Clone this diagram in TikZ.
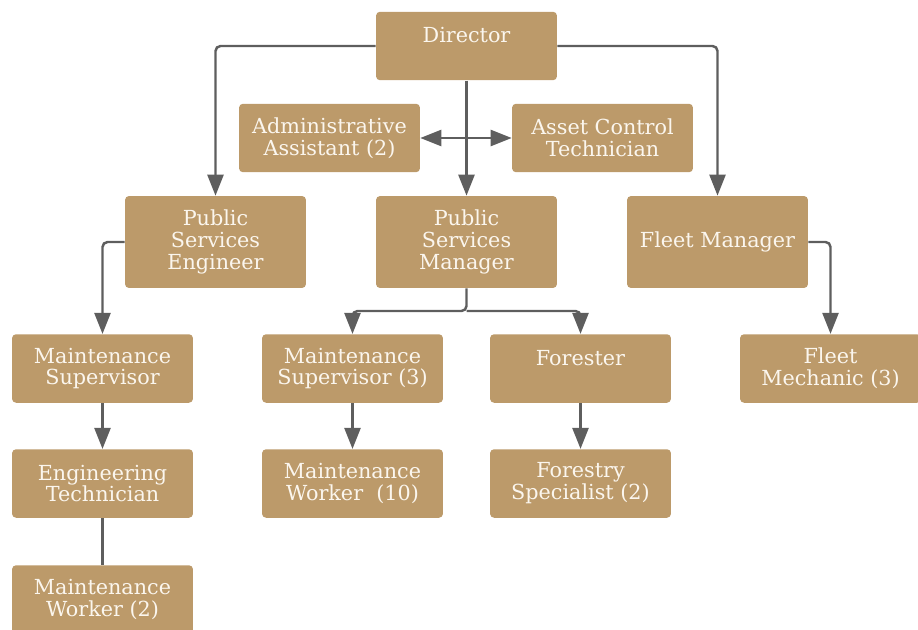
\documentclass[tikz,border=0pt]{standalone}
\usepackage{fontspec}
\setmainfont{DejaVu Serif}
\usetikzlibrary{arrows.meta, positioning}

\definecolor{boxtan}{HTML}{BC9A6A}
\definecolor{linegray}{HTML}{5E5E5E}
\definecolor{textcream}{HTML}{FBF6EE}

\begin{document}
\begin{tikzpicture}[
    x=0.02cm, y=-0.02cm,
    role/.style={rectangle, rounded corners=0.08cm, fill=boxtan, text=textcream,
        minimum width=3.62cm, minimum height=1.37cm, inner sep=0pt, align=center,
        font=\fontsize{11.8}{12.5}\selectfont},
    tallrole/.style={role, minimum height=1.84cm},
    link/.style={draw=linegray, line width=1.4pt, rounded corners=0.1cm},
    arrow/.style={link, -{Triangle[length=0.42cm, width=0.32cm]}},
    twoway/.style={link, {Triangle[length=0.42cm, width=0.32cm]}-{Triangle[length=0.42cm, width=0.32cm]}}
]
\useasboundingbox (0,0) rectangle (918,629);
\clip (0,0) rectangle (918,629);

% ---- baris atas ----
\node[role]     (dir)  at (466.5, 46)  {Director\\ \mbox{}};
\node[role]     (adm)  at (329.5,138)  {Administrative\\Assistant (2)};
\node[role]     (ast)  at (602.5,138)  {Asset Control\\Technician};

% ---- manajer ----
\node[tallrole] (pse)  at (215.5,242)  {Public\\Services\\Engineer};
\node[tallrole] (psm)  at (466.5,242)  {Public\\Services\\Manager};
\node[tallrole] (flm)  at (717.5,242)  {Fleet Manager};

% ---- supervisor ----
\node[role]     (ms1)  at (102.5,368.5) {Maintenance\\Supervisor};
\node[role]     (ms3)  at (352.5,368.5) {Maintenance\\Supervisor (3)};
\node[role]     (for)  at (580.5,368.5) {Forester\\ \mbox{}};
\node[role]     (fme)  at (830.5,368.5) {Fleet\\Mechanic (3)};

% ---- staf ----
\node[role]     (et)   at (102.5,483.5) {Engineering\\Technician};
\node[role]     (mw10) at (352.5,483.5) {Maintenance\\Worker~~(10)};
\node[role]     (fsp)  at (580.5,483.5) {Forestry\\Specialist (2)};
\node[role]     (mw2)  at (102.5,599.5) {Maintenance\\Worker (2)};

\coordinate (fork) at (466.5,311);

% ---- dari Director ----
\draw[arrow]  (dir.west) -| (pse.north);
\draw[arrow]  (dir.east) -| (flm.north);
\draw[arrow]  (dir.south) -- (psm.north);
\draw[twoway] (adm.east) -- (ast.west);

% ---- dari manajer ----
\draw[arrow] (pse.west) -| (ms1.north);
\draw[arrow] (flm.east) -| (fme.north);
\draw[arrow] (psm.south) -- (fork) -| (ms3.north);
\draw[arrow] (fork) -| (for.north);

% ---- ke staf ----
\draw[arrow] (ms1) -- (et);
\draw[link]  (et) -- (mw2);
\draw[arrow] (ms3) -- (mw10);
\draw[arrow] (for) -- (fsp);

\end{tikzpicture}
\end{document}
